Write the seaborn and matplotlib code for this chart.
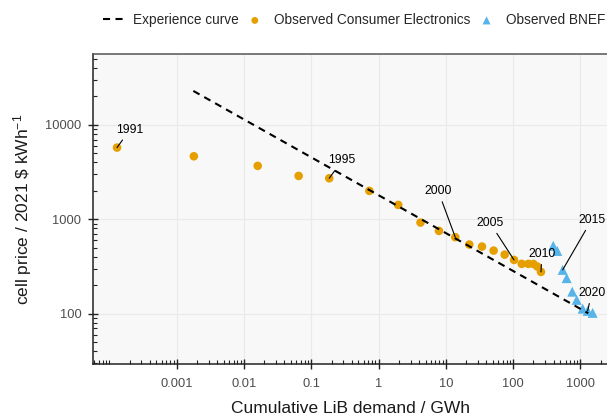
import numpy as np
import matplotlib
matplotlib.use("Agg")
import matplotlib.pyplot as plt
import matplotlib.ticker as mticker
import seaborn as sns

# Observed consumer electronics cells (1991-2010)
ce_years = list(range(1991, 2011))
ce_demand = [1.3e-4, 0.0018, 0.016, 0.065, 0.185, 0.73, 1.96, 4.2, 7.9, 13.8,
             22.3, 34.4, 51.3, 74.8, 103, 134, 168, 200, 228, 259]
ce_price = [5750, 4650, 3680, 2880, 2720, 2000, 1420, 923, 753, 646,
            540, 514, 466, 422, 371, 337, 337, 336, 316, 277]

# Observed BNEF cells (2013-2021)
bnef_years = list(range(2013, 2022))
bnef_demand = [394, 452, 544, 624, 755, 879, 1079, 1280, 1517]
bnef_price = [523, 462, 291, 238, 171, 140, 113, 107, 102]

# Experience curve end points (straight line in log-log)
curve_demand = [0.00177, 1306]
curve_price = [22900, 101]

x_ticks = [0.001, 0.01, 0.1, 1, 10, 100, 1000]
x_ticklabels = ["0.001", "0.01", "0.1", "1", "10", "100", "1000"]
y_ticks = [100, 1000, 10000]
y_ticklabels = ["100", "1000", "10000"]

label_years = [1991, 1995, 2000, 2005, 2010, 2015, 2020]

sns.set_style("white", {"axes.facecolor": "#F8F8F8", "grid.color": "#EAEAEA"})
plt.rcParams["font.family"] = ["Liberation Sans", "DejaVu Sans"]
plt.rcParams["mathtext.fontset"] = "custom"
plt.rcParams["mathtext.rm"] = "Liberation Sans"
plt.rcParams["mathtext.default"] = "regular"

fig = plt.figure(figsize=(6.07, 4.15), dpi=100)
ax = fig.add_axes([0.1537, 0.1236, 0.8463, 0.7456])

sns.lineplot(x=curve_demand, y=curve_price, color="black", lw=1.5,
             linestyle=(0, (3.4, 2.6)), label="Experience curve", ax=ax, zorder=4)
sns.scatterplot(x=ce_demand, y=ce_price, color="#E69F00", s=38, edgecolor="none",
                label="Observed Consumer Electronics", ax=ax, zorder=3)
sns.scatterplot(x=bnef_demand, y=bnef_price, color="#56B4E9", marker="^", s=52,
                edgecolor="none", label="Observed BNEF", ax=ax, zorder=3)

ax.set_xscale("log")
ax.set_yscale("log")
ax.set_xlim(5.77e-5, 2480)
ax.set_ylim(29.5, 56000)

ax.set_xticks(x_ticks, x_ticklabels)
ax.set_yticks(y_ticks, y_ticklabels)
ax.xaxis.set_minor_locator(mticker.LogLocator(base=10, subs=np.arange(1, 10), numticks=50))
ax.yaxis.set_minor_locator(mticker.LogLocator(base=10, subs=np.arange(1, 10), numticks=50))
ax.xaxis.set_minor_formatter(mticker.NullFormatter())
ax.yaxis.set_minor_formatter(mticker.NullFormatter())

ax.tick_params(which="both", bottom=True, left=True, top=False, right=False)
ax.tick_params(which="major", direction="inout", length=7, width=1, color="#222222",
               labelsize=9.3, labelcolor="#4D4D4D")
ax.tick_params(axis="x", which="major", pad=7)
ax.tick_params(axis="y", which="major", pad=5)
ax.tick_params(which="minor", direction="in", length=3, width=0.8, color="#222222")

ax.grid(True, which="major", color="#EAEAEA", lw=0.9)
ax.grid(False, which="minor")

for side in ["left", "bottom"]:
    ax.spines[side].set_color("#222222")
    ax.spines[side].set_linewidth(1.1)
ax.spines["top"].set_color("#555555")
ax.spines["top"].set_linewidth(1.1)
ax.spines["right"].set_visible(False)

ax.set_xlabel("Cumulative LiB demand / GWh", fontsize=12.5, color="#1A1A1A", labelpad=8)
ax.set_ylabel("cell price / 2021 \\$ kWh$^{-1}$", fontsize=12.5, color="#1A1A1A", labelpad=8)

# year labels with leader lines (offsets in pixels)
offsets = {1991: (13, 18), 1995: (13, 18), 2000: (-17, 46), 2005: (-24, 37),
           2010: (1, 18), 2015: (29, 50), 2020: (4, 18)}
for yr in label_years:
    if yr in ce_years:
        i = ce_years.index(yr)
        px, py = ce_demand[i], ce_price[i]
    else:
        i = bnef_years.index(yr)
        px, py = bnef_demand[i], bnef_price[i]
    ax.annotate(str(yr), xy=(px, py), xytext=offsets[yr], textcoords="offset pixels",
                ha="center", va="center", fontsize=8.8, color="black", zorder=5,
                arrowprops=dict(arrowstyle="-", color="black", lw=0.8,
                                shrinkA=1, shrinkB=0))

handles, labels = ax.get_legend_handles_labels()
ax.get_legend().remove()
fig.legend(handles, labels, loc="center right", bbox_to_anchor=(605 / 607, 1 - 20 / 415),
           ncol=3, frameon=False, fontsize=9.8, handlelength=1.6, handletextpad=0.6,
           columnspacing=0.4, borderpad=0, borderaxespad=0, markerscale=0.8)

fig.savefig("out.png", dpi=100)
